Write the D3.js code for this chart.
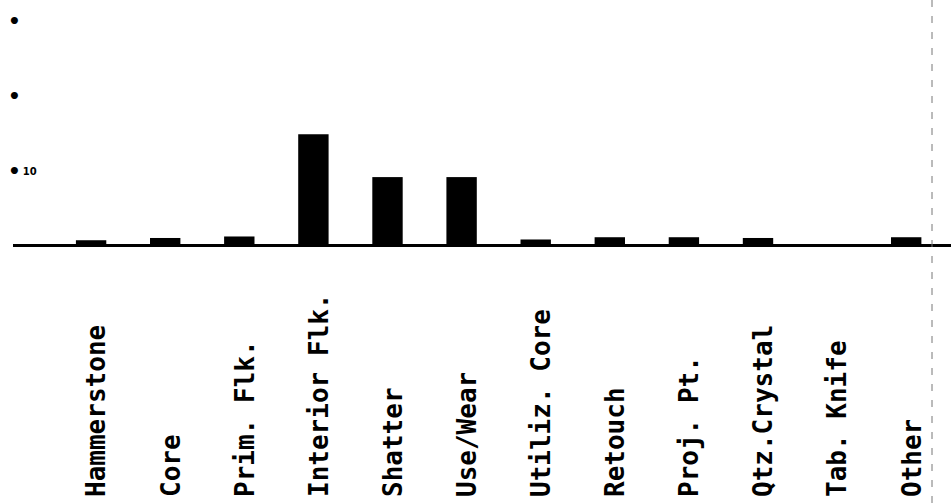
<!DOCTYPE html>
<html>
<head>
<meta charset="utf-8">
<script src="https://cdn.jsdelivr.net/npm/d3@7"></script>
<style>
  html, body { margin: 0; padding: 0; background: #fff; }
  svg { display: block; }
</style>
</head>
<body>
<svg id="chart" width="951" height="504"></svg>
<script>
const categories = ["Hammerstone", "Core", "Prim. Flk.", "Interior Flk.", "Shatter", "Use/Wear",
                    "Utiliz. Core", "Retouch", "Proj. Pt.", "Qtz.Crystal", "Tab. Knife", "Other"];
const values = [0.007, 0.010, 0.012, 0.148, 0.091, 0.091, 0.008, 0.011, 0.011, 0.010, 0.000, 0.011];
const tickValues = [0.1, 0.2, 0.3];
const tickDigits = ["10", "", ""];

const svg = d3.select("#chart");
const baseY = 245.5;

const x = d3.scaleBand()
  .domain(categories)
  .range([54.05, 943.25])
  .paddingInner(0.59)
  .paddingOuter(0.295);

const y = d3.scaleLinear()
  .domain([0, 0.3])
  .range([baseY, 20]);

// y axis (only tick labels, like the scan)
const yAxis = d3.axisLeft(y)
  .tickValues(tickValues)
  .tickSize(0)
  .tickFormat("");

const gy = svg.append("g").attr("transform", "translate(8,0)").call(yAxis);
gy.select(".domain").remove();
gy.selectAll(".tick text").each(function(d, i) {
  const t = d3.select(this)
    .attr("x", 0)
    .attr("dy", 0)
    .attr("text-anchor", "start")
    .attr("font-family", "DejaVu Sans")
    .attr("font-weight", "bold")
    .attr("fill", "#000");
  t.append("tspan").attr("font-size", 20).attr("dy", 7).text("\u2022");
  if (tickDigits[i]) {
    t.append("tspan").attr("font-size", 10).attr("dx", 2).attr("dy", -3).text(tickDigits[i]);
  }
});

// bars
svg.append("g").selectAll("rect")
  .data(values)
  .join("rect")
  .attr("x", (d, i) => x(categories[i]))
  .attr("width", x.bandwidth())
  .attr("y", d => y(d))
  .attr("height", d => baseY - y(d))
  .attr("fill", "#000");

// baseline
svg.append("line")
  .attr("x1", 13).attr("x2", 951)
  .attr("y1", baseY).attr("y2", baseY)
  .attr("stroke", "#000")
  .attr("stroke-width", 3);

// dashed fold line at right
svg.append("line")
  .attr("x1", 932).attr("x2", 932)
  .attr("y1", 0).attr("y2", 504)
  .attr("stroke", "#777")
  .attr("stroke-width", 1)
  .attr("stroke-dasharray", "7,9");

// category labels (rotated)
const xAxis = d3.axisBottom(x).tickSize(0);
const gx = svg.append("g").attr("transform", "translate(0,497)").call(xAxis);
gx.select(".domain").remove();
gx.selectAll("text")
  .attr("transform", "rotate(-90)")
  .attr("x", 0)
  .attr("y", 0)
  .attr("dx", 0)
  .attr("dy", "0.36em")
  .attr("text-anchor", "start")
  .attr("font-family", "DejaVu Sans Mono")
  .attr("font-weight", "bold")
  .attr("font-size", 26)
  .attr("fill", "#000");
gx.selectAll(".tick").attr("transform", d => `translate(${x(d) + x.bandwidth() / 2 + 5},0)`);
</script>
</body>
</html>
